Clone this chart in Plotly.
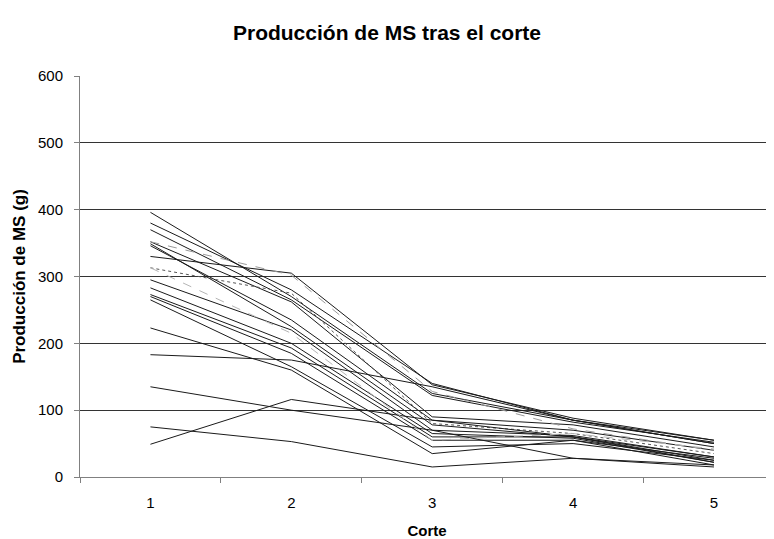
import plotly.graph_objects as go

cortes = [1, 2, 3, 4, 5]

series = {
    "L01": [396, 270, 125, 85, 55],
    "L02": [380, 280, 140, 85, 50],
    "L03": [370, 265, 122, 82, 52],
    "L04": [352, 262, 90, 78, 45],
    "L05": [349, 225, 78, 60, 25],
    "L06": [346, 235, 85, 70, 40],
    "L07": [330, 305, 138, 88, 55],
    "L08": [313, 275, 80, 65, 35],
    "L09": [295, 220, 70, 62, 30],
    "L10": [283, 200, 65, 58, 22],
    "L11": [273, 193, 60, 60, 22],
    "L12": [270, 185, 55, 55, 18],
    "L13": [265, 165, 45, 50, 25],
    "L14": [223, 160, 35, 55, 28],
    "L15": [183, 175, 135, 85, 50],
    "L16": [135, 100, 70, 28, 18],
    "L17": [75, 53, 15, 28, 15],
    "L18": [49, 116, 85, 60, 30],
    "L19": [352, 302, 128, 72, 40],
    "L20": [313, 215, 55, 65, 42],
}
styles = {
    "L19": ("#9a9a9a", "dash"),
    "L20": ("#b5b5b5", "dash"),
    "L08": ("#555555", "dot"),
}

ytick_vals = [0, 100, 200, 300, 400, 500, 600]

fig = go.Figure()
for name, vals in series.items():
    color, dash = styles.get(name, ("#1a1a1a", "solid"))
    fig.add_trace(go.Scatter(x=cortes, y=vals, mode="lines", name=name,
                             line=dict(color=color, width=1, dash=dash)))

fig.update_layout(
    width=774, height=539,
    margin=dict(l=72, r=8, t=68, b=70),
    paper_bgcolor="white", plot_bgcolor="white",
    showlegend=False,
    font=dict(family="Liberation Sans, Arial, sans-serif", size=15, color="#000000"),
    title=dict(text="<b>Producción de MS tras el corte</b>", x=379 / 774, xanchor="center",
               y=1 - 25 / 539, yanchor="middle", font=dict(size=21)),
)
fig.update_xaxes(
    range=[0.5, 5.426], tickvals=cortes, ticktext=[str(c) for c in cortes],
    ticks="", showgrid=False, showline=True, linecolor="#808080", linewidth=1,
    minor=dict(tick0=0.5, dtick=1, ticks="outside", ticklen=5, tickcolor="#808080", showgrid=False),
    title=dict(text="<b>Corte</b>", standoff=15, font=dict(size=15)),
    zeroline=False, ticklabelstandoff=12,
)
fig.update_yaxes(
    range=[0, 600], tickvals=ytick_vals, ticks="outside", ticklen=5, tickcolor="#808080",
    showgrid=True, gridcolor="#333333", gridwidth=1,
    showline=True, linecolor="#808080", linewidth=1, zeroline=False,
    ticklabelstandoff=8,
    title=dict(text="<b>Producción de MS (g)</b>", standoff=8, font=dict(size=17)),
)

fig.write_html("out.html")
